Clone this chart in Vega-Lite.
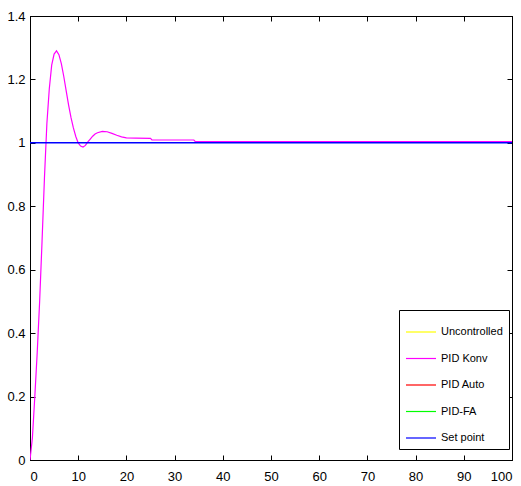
{
  "$schema": "https://vega.github.io/schema/vega-lite/v6.json",
  "width": 482,
  "height": 444,
  "autosize": {"type": "none"},
  "padding": {"left": 30, "top": 16, "right": 9, "bottom": 26},
  "background": "white",
  "config": {
    "view": {"stroke": "#000000", "strokeWidth": 1},
    "font": "Liberation Sans",
    "axis": {
      "grid": false,
      "domainColor": "#000000",
      "tickColor": "#000000",
      "tickSize": -5,
      "tickWidth": 1,
      "labelFont": "Liberation Sans",
      "labelFontSize": 13,
      "labelColor": "#000000",
      "title": null
    }
  },
  "datasets": {
    "series": [
      {"t": 0, "v": 0, "s": "PID Konv"},
      {"t": 0.5, "v": 0.07, "s": "PID Konv"},
      {"t": 1, "v": 0.2, "s": "PID Konv"},
      {"t": 1.5, "v": 0.34, "s": "PID Konv"},
      {"t": 2, "v": 0.5, "s": "PID Konv"},
      {"t": 2.5, "v": 0.69, "s": "PID Konv"},
      {"t": 3, "v": 0.89, "s": "PID Konv"},
      {"t": 3.5, "v": 1.06, "s": "PID Konv"},
      {"t": 4, "v": 1.17, "s": "PID Konv"},
      {"t": 4.5, "v": 1.245, "s": "PID Konv"},
      {"t": 5, "v": 1.28, "s": "PID Konv"},
      {"t": 5.5, "v": 1.29, "s": "PID Konv"},
      {"t": 6, "v": 1.278, "s": "PID Konv"},
      {"t": 6.5, "v": 1.25, "s": "PID Konv"},
      {"t": 7, "v": 1.21, "s": "PID Konv"},
      {"t": 7.5, "v": 1.165, "s": "PID Konv"},
      {"t": 8, "v": 1.12, "s": "PID Konv"},
      {"t": 8.5, "v": 1.08, "s": "PID Konv"},
      {"t": 9, "v": 1.047, "s": "PID Konv"},
      {"t": 9.5, "v": 1.02, "s": "PID Konv"},
      {"t": 10, "v": 1.0, "s": "PID Konv"},
      {"t": 10.5, "v": 0.99, "s": "PID Konv"},
      {"t": 11, "v": 0.987, "s": "PID Konv"},
      {"t": 11.5, "v": 0.992, "s": "PID Konv"},
      {"t": 12, "v": 1.003, "s": "PID Konv"},
      {"t": 12.5, "v": 1.012, "s": "PID Konv"},
      {"t": 13, "v": 1.021, "s": "PID Konv"},
      {"t": 13.5, "v": 1.028, "s": "PID Konv"},
      {"t": 14, "v": 1.032, "s": "PID Konv"},
      {"t": 15, "v": 1.036, "s": "PID Konv"},
      {"t": 16, "v": 1.035, "s": "PID Konv"},
      {"t": 17, "v": 1.03, "s": "PID Konv"},
      {"t": 18, "v": 1.024, "s": "PID Konv"},
      {"t": 19, "v": 1.019, "s": "PID Konv"},
      {"t": 20, "v": 1.016, "s": "PID Konv"},
      {"t": 22, "v": 1.015, "s": "PID Konv"},
      {"t": 25, "v": 1.014, "s": "PID Konv"},
      {"t": 25.3, "v": 1.009, "s": "PID Konv"},
      {"t": 34, "v": 1.009, "s": "PID Konv"},
      {"t": 34.3, "v": 1.004, "s": "PID Konv"},
      {"t": 100, "v": 1.004, "s": "PID Konv"},
      {"t": 0, "v": 1, "s": "Set point"},
      {"t": 100, "v": 1, "s": "Set point"}
    ]
  },
  "data": {"name": "series"},
  "encoding": {
    "x": {"field": "t", "type": "quantitative", "scale": {"domain": [0, 100], "nice": false, "zero": false}},
    "y": {"field": "v", "type": "quantitative", "scale": {"domain": [0, 1.4], "nice": false, "zero": false}},
    "color": {
      "field": "s",
      "type": "nominal",
      "scale": {
        "domain": ["Uncontrolled", "PID Konv", "PID Auto", "PID-FA", "Set point"],
        "range": ["#ffff00", "#ff00ff", "#ff0000", "#00ff00", "#0000ff"]
      },
      "legend": {
        "title": null,
        "orient": "none",
        "legendX": 369,
        "legendY": 294,
        "direction": "vertical",
        "symbolType": "stroke",
        "symbolSize": 900,
        "symbolStrokeWidth": 1.2,
        "labelFont": "Liberation Sans",
        "labelFontSize": 11,
        "labelColor": "#000000",
        "labelOffset": 4,
        "rowPadding": 5.5,
        "padding": 6,
        "strokeColor": "#000000",
        "fillColor": "#ffffff"
      }
    }
  },
  "layer": [
    {
      "transform": [{"filter": "datum.s === 'PID Konv'"}],
      "mark": {"type": "line", "strokeWidth": 1.2, "clip": true},
      "encoding": {
        "x": {"field": "t", "type": "quantitative", "axis": {"orient": "bottom", "values": [0,10,20,30,40,50,60,70,80,90,100], "format": "d", "labelPadding": 15}},
        "y": {"field": "v", "type": "quantitative", "axis": {"orient": "left", "values": [0,0.2,0.4,0.6,0.8,1,1.2,1.4], "format": "~g", "labelPadding": 10}}
      }
    },
    {
      "transform": [{"filter": "datum.s === 'Set point'"}],
      "mark": {"type": "line", "strokeWidth": 1.5, "clip": true, "color": "#2a4cff"},
      "encoding": {
        "x": {"field": "t", "type": "quantitative", "axis": {"orient": "top", "values": [0,10,20,30,40,50,60,70,80,90,100], "labels": false}},
        "y": {"field": "v", "type": "quantitative", "axis": {"orient": "right", "values": [0,0.2,0.4,0.6,0.8,1,1.2,1.4], "labels": false}}
      }
    }
  ],
  "resolve": {"axis": {"x": "independent", "y": "independent"}}
}
